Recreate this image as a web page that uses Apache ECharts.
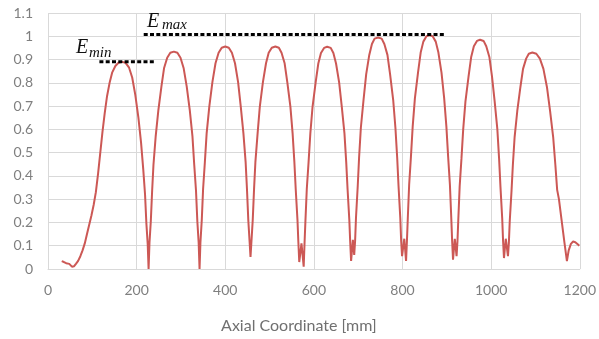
<!DOCTYPE html>
<html><head><meta charset="utf-8">
<script src="https://cdn.jsdelivr.net/npm/echarts@6/dist/echarts.min.js"></script>
<style>html,body{margin:0;padding:0;background:#fff}#c{width:599px;height:339px}</style>
</head><body><div id="c"></div>
<script>
// Field profile along the axis, one array per cell (x in mm, y normalized)
const cell1 = [[31,.034],[36,.03],[41,.025],[45,.02],[48,.022],[51,.016],[54,.01],[56,.005],[59,.012],[63,.022],[68,.035],[73,.055],[78,.08],[83,.11],[88,.15],[93,.19],[98,.23],[103,.275],[108,.33],[113,.41],[118,.5],[123,.59],[128,.67],[133,.74],[139,.8],[145,.845],[152,.872],[159,.886],[167,.89],
  [175,.886],[183,.865],[190,.823],[197,.748],[204,.65],[210,.543],[215,.427],[219,.32],[222,.196],[225,.107],[227,0]];
const cell2 = [[229,.112],[232,.205],[235,.336],[238,.448],[243,.57],[249,.682],[256,.785],[262,.864],[269,.908],[276,.929],[284,.934],
  [292,.929],[299,.908],[306,.864],[313,.785],[320,.682],[326,.57],[330,.448],[334,.336],[337,.205],[340,.112],[342,0]];
const cell3 = [[344,.115],[347,.21],[350,.344],[354,.459],[358,.583],[364,.698],[371,.803],[378,.884],[385,.929],[392,.951],[400,.956],
  [408,.951],[415,.929],[422,.884],[429,.803],[435,.698],[441,.583],[446,.459],[449,.344],[452,.21],[455,.115],[457,.052]];
const cell4 = [[459,.115],[462,.21],[465,.344],[468,.459],[473,.583],[478,.698],[485,.803],[492,.884],[498,.929],[505,.951],[513,.956],
  [521,.951],[527,.929],[534,.884],[540,.803],[547,.698],[552,.583],[556,.459],[559,.344],[563,.21],[565,.115],[567,.03],[572,.11],[577,.01]];
const cell5 = [[579,.115],[581,.21],[584,.344],[588,.458],[592,.583],[597,.697],[604,.802],[610,.883],[616,.928],[623,.95],[630,.955],
  [638,.95],[644,.928],[650,.883],[657,.802],[663,.697],[669,.583],[673,.458],[676,.344],[680,.21],[682,.115],[684,.035],[688,.125],[691,.06]];
const cell6 = [[693,.119],[695,.219],[699,.358],[702,.478],[706,.607],[712,.726],[718,.836],[725,.92],[731,.967],[737,.99],[745,.995],
  [753,.99],[759,.967],[766,.92],[772,.836],[779,.726],[784,.607],[788,.478],[791,.358],[795,.219],[797,.119],[799,.055],[804,.13],[808,.035]];
const cell7 = [[810,.121],[812,.221],[815,.362],[819,.482],[823,.613],[828,.734],[835,.844],[841,.93],[847,.977],[854,1.0],[861,1.005],
  [868,1.0],[875,.977],[881,.93],[888,.844],[894,.734],[899,.613],[903,.482],[907,.362],[910,.221],[912,.121],[914,.04],[918,.13],[922,.055]];
const cell8 = [[924,.118],[926,.217],[929,.355],[933,.473],[937,.601],[942,.719],[949,.827],[955,.911],[961,.957],[968,.98],[975,.985],
  [983,.98],[989,.957],[996,.911],[1002,.827],[1008,.719],[1014,.601],[1018,.473],[1021,.355],[1025,.217],[1027,.118],[1029,.047],[1033,.13],[1038,.055]];
const cell9 = [[1040,.112],[1042,.205],[1046,.335],[1049,.446],[1053,.567],[1059,.679],[1066,.781],[1072,.86],[1079,.904],[1085,.925],[1093,.93],
  [1102,.925],[1110,.904],[1118,.86],[1126,.781],[1133,.679],[1140,.567],[1145,.446],[1149,.34],[1153,.3],[1159,.21],[1165,.12],[1171,.034],
  [1175,.08],[1180,.108],[1185,.118],[1190,.115],[1196,.105],[1199,.1]];
const eMinLine = [[116,0.89],[242,0.89]];
const eMaxLine = [[216,1.008],[898,1.008]];
const xRange = [0, 1200, 200];
const yRange = [0, 1.1, 0.1];
const xName = 'Axial Coordinate [mm]';

const field = [].concat(cell1, cell2, cell3, cell4, cell5, cell6, cell7, cell8, cell9);
const gridColor = '#d9d9d9';
const labelColor = '#7f7f7f';
const chart = echarts.init(document.getElementById('c'), null, {renderer: 'canvas'});
chart.setOption({
  animation: false,
  backgroundColor: '#fff',
  grid: {left: 48, right: 11, top: 13, bottom: 68},
  xAxis: {
    type: 'value', min: xRange[0], max: xRange[1], interval: xRange[2],
    name: xName, nameLocation: 'middle', nameGap: 49,
    nameTextStyle: {color: '#707070', fontSize: 16, fontFamily: 'Lato', padding: [0, 30, 0, 0]},
    axisLine: {show: true, lineStyle: {color: gridColor, width: 1}},
    axisTick: {show: false},
    axisLabel: {color: labelColor, fontSize: 14, fontFamily: 'Lato', margin: 14,
      formatter: v => String(v)},
    splitLine: {show: true, lineStyle: {color: gridColor, width: 1}}
  },
  yAxis: {
    type: 'value', min: yRange[0], max: yRange[1], interval: yRange[2],
    axisLine: {show: false}, axisTick: {show: false},
    axisLabel: {color: labelColor, fontSize: 14, fontFamily: 'Lato', margin: 15,
      formatter: v => String(+v.toFixed(1))},
    splitLine: {show: true, lineStyle: {color: gridColor, width: 1}}
  },
  series: [
    {type: 'line', data: field, showSymbol: false, symbol: 'none',
      lineStyle: {color: '#cc5855', width: 2}, z: 3},
    {type: 'line', data: eMinLine, showSymbol: false, symbol: 'none',
      lineStyle: {color: '#000', width: 3, type: [4, 2.3], cap: 'butt'}, z: 4},
    {type: 'line', data: eMaxLine, showSymbol: false, symbol: 'none',
      lineStyle: {color: '#000', width: 3, type: [4, 2.3], cap: 'butt'}, z: 4}
  ],
  graphic: [
    {type: 'text', x: 76, y: 48, z: 10, style: {text: 'E', font: 'italic 20px "Liberation Serif"', fill: '#111', verticalAlign: 'middle'}},
    {type: 'text', x: 89, y: 53, z: 10, style: {text: 'min', font: 'italic 15px "Liberation Serif"', fill: '#111', verticalAlign: 'middle'}},
    {type: 'text', x: 147, y: 21.5, z: 10, style: {text: 'E', font: 'italic 20px "Liberation Serif"', fill: '#111', verticalAlign: 'middle'}},
    {type: 'text', x: 162, y: 25, z: 10, style: {text: 'max', font: 'italic 15px "Liberation Serif"', fill: '#111', verticalAlign: 'middle'}}
  ]
});
</script>
</body></html>
